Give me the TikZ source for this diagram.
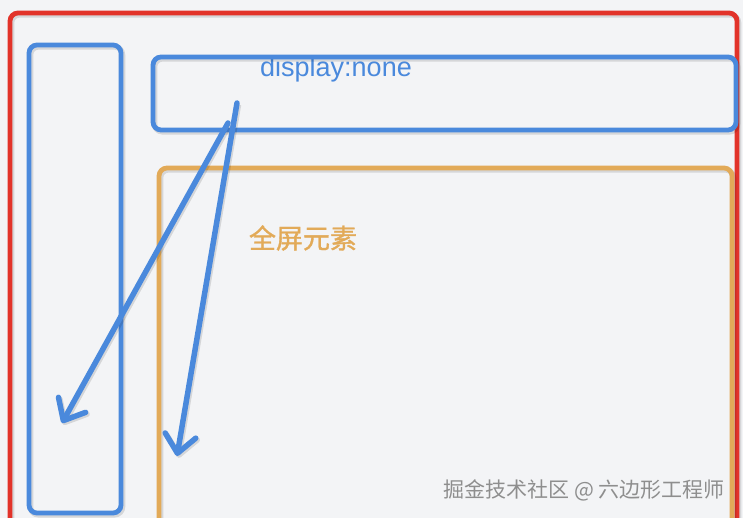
\documentclass[tikz,border=0pt]{standalone}
\usepackage{fontspec}
\setmainfont{Liberation Sans}
\newfontfamily\cjk{Noto Sans CJK SC}
\newfontfamily\cjkheavy[FakeBold=1.2]{Noto Sans CJK SC}
\usetikzlibrary{arrows.meta}
\definecolor{bgc}{HTML}{F3F4F6}
\definecolor{redc}{HTML}{E2332A}
\definecolor{bluec}{HTML}{4A89DC}
\definecolor{orangec}{HTML}{E2AA58}
\definecolor{wmc}{HTML}{8E8E8E}
\tikzset{
  shadowed/.style={preaction={draw=black, draw opacity=0.12, line width=5.5pt, transform canvas={shift={(1.5pt,-1.8pt)}}}},
  frame/.style={draw=#1, line width=4.8pt, rounded corners=8pt, inner sep=0pt, outer sep=0pt, shadowed},
  pointer/.style={draw=bluec, line width=5.5pt, line cap=round, line join=round,
    -{Straight Barb[length=18pt, width=31pt, line width=5.5pt, round]}, shadowed},
}
\begin{document}
\begin{tikzpicture}[x=1pt, y=-1pt]
\useasboundingbox (0,0) rectangle (743,518);
\clip (0,0) rectangle (743,518);
\fill[bgc] (0,0) rectangle (743,518);
% outer red frame
\node[frame=redc, minimum width=727pt, minimum height=527pt] (screen) at (373.5,276.5) {};
% left sidebar
\node[frame=bluec, minimum width=92pt, minimum height=468pt] (side) at (75,279) {};
% label of top bar
\node[anchor=base, text=bluec, font=\fontsize{27}{30}\selectfont, inner sep=0pt] (hidden) at (336,77) {display:none};
% top bar
\node[frame=bluec, minimum width=583pt, minimum height=73pt] (top) at (444.5,93.5) {};
% full-screen element
\node[frame=orangec, minimum width=573pt, minimum height=372pt] (full) at (445.5,354) {};
\node[text=orangec, font=\cjkheavy\fontsize{27}{30}\selectfont, inner sep=0pt] (fulltxt) at (303,238) {全屏元素};
% arrows
\coordinate (s1) at (237,103);
\coordinate (e1) at (177,456);
\coordinate (s2) at (228,123);
\coordinate (e2) at (62,423);
\draw[pointer] (s2) -- (e2);
\draw[pointer] (s1) -- (e1);
% watermark
\node[text=wmc, font=\cjk\fontsize{21}{24}\selectfont, inner sep=0pt] (wm) at (584,490) {掘金技术社区 @ 六边形工程师};
\end{tikzpicture}
\end{document}
